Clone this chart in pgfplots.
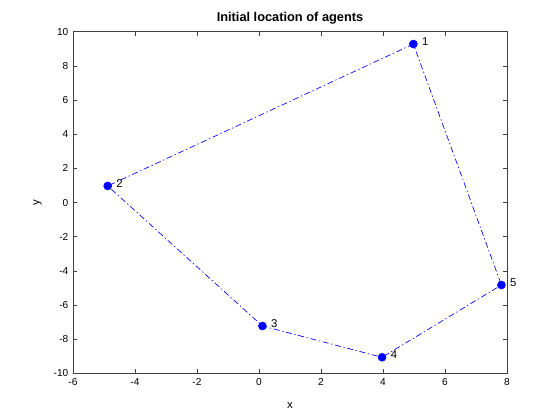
\documentclass[border=0pt]{standalone}
\usepackage{fontspec}
\setmainfont{Liberation Sans}
\usepackage{pgfplots}
\pgfplotsset{compat=1.18}
\usetikzlibrary{calc}

\pgfplotstableread{
x y lab
4.98 9.28 1
-4.88 0.97 2
0.11 -7.23 3
3.97 -9.06 4
7.82 -4.83 5
}\agents

\begin{document}
\begin{tikzpicture}
\begin{axis}[
  scale only axis,
  width=325.5pt, height=256.2pt,
  xmin=-6, xmax=8, ymin=-10, ymax=10,
  xtick={-6,-4,...,8}, ytick={-10,-8,...,10},
  tick align=inside, major tick length=3pt,
  axis line style={black!75, line width=0.4pt},
  tick style={black!75, line width=0.4pt},
  /pgf/number format/assume math mode=true,
  tick label style={font=\fontsize{7.6}{9}\selectfont},
  xlabel={x}, ylabel={y},
  label style={font=\fontsize{8.5}{10}\selectfont},
  xlabel style={yshift=-6pt},
  ylabel style={yshift=2pt},
  title={\textbf{Initial location of agents}},
  title style={font=\fontsize{9.6}{11}\selectfont, yshift=-4pt},
]
  \addplot[blue, line width=0.5pt, dash pattern=on 4.5pt off 2pt on 1pt off 2pt, no marks]
    coordinates {(4.98,9.28) (-4.88,0.97) (0.11,-7.23) (3.97,-9.06) (7.82,-4.83) (4.98,9.28)};
  \addplot[only marks, mark=*, mark size=3pt, color=blue, fill=blue,
    nodes near coords, point meta=explicit symbolic,
    every node near coord/.style={anchor=west, font=\fontsize{8.5}{10}\selectfont, color=black, xshift=3pt, yshift=2pt}]
    table[x=x, y=y, meta=lab] {\agents};
\end{axis}
\path[use as bounding box] ($(current axis.south west)+(-54.75pt,-35pt)$) rectangle ($(current axis.north east)+(39.75pt,23.8pt)$);
\end{tikzpicture}
\end{document}
